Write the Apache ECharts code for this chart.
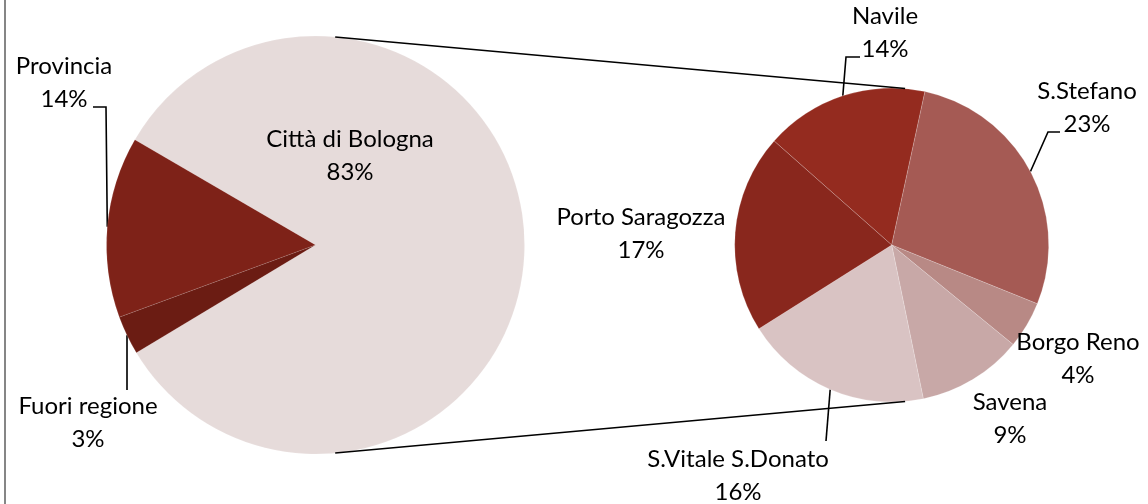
<!DOCTYPE html>
<html>
<head>
<meta charset="utf-8">
<script src="https://cdn.jsdelivr.net/npm/echarts@6/dist/echarts.min.js"></script>
<style>
  html, body { margin: 0; padding: 0; background: #fff; }
  #pieOfPie { width: 1148px; height: 504px; }
</style>
</head>
<body>
<div id="pieOfPie"></div>
<script>
// dati: torta principale (provenienza) e torta secondaria (quartieri di Bologna)
var mainNames = ['Città di Bologna', 'Provincia', 'Fuori regione'];
var mainValues = [83, 14, 3];
var zoneNames = ['Navile', 'S.Stefano', 'Borgo Reno', 'Savena', 'S.Vitale S.Donato', 'Porto Saragozza'];
var zoneValues = [14, 23, 4, 9, 16, 17];

var mainColors = ['#e6dbda', '#7e2218', '#6b1c13'];
var zoneColors = ['#942b1f', '#a55a54', '#b88985', '#c8a8a7', '#d9c3c3', '#89271d'];

// geometria delle due torte (px)
var leftC = [315.5, 245], leftR = 209;
var rightC = [891.7, 245], rightR = 157;

// posizione delle etichette (centro del blocco) e punti della linea guida
var mainLabels = {
    'Città di Bologna': {x: 350, y: 156},
    'Provincia': {x: 64, y: 83, line: [[106, 107], [93, 107]]},
    'Fuori regione': {x: 88, y: 423, line: [[127, 390], [127, 390]]}
};
var zoneLabels = {
    'Navile': {x: 885, y: 33, line: [[846, 57], [860, 57]]},
    'S.Stefano': {x: 1087, y: 108, line: [[1048, 132], [1060, 132]]},
    'Borgo Reno': {x: 1078, y: 359},
    'Savena': {x: 1010, y: 419},
    'S.Vitale S.Donato': {x: 738, y: 476, line: [[826, 441], [826, 441]]},
    'Porto Saragozza': {x: 641, y: 234}
};

function buildData(names, values, colors, labels) {
    var out = [];
    for (var i = 0; i < names.length; i++) {
        out.push({
            name: names[i],
            value: values[i],
            itemStyle: {color: colors[i]},
            labelLine: {show: !!labels[names[i]].line}
        });
    }
    return out;
}

function makeLayout(names, labels) {
    return function (p) {
        var pos = labels[names[p.dataIndex]];
        var res = {x: pos.x, y: pos.y, align: 'center', verticalAlign: 'middle'};
        if (pos.line && p.labelLinePoints) {
            res.labelLinePoints = [p.labelLinePoints[0]].concat(pos.line);
        }
        return res;
    };
}

// punto sul bordo di una torta, angolo in gradi dal nord in senso orario
function rim(c, r, deg) {
    var a = deg * Math.PI / 180;
    return [c[0] + r * Math.sin(a), c[1] - r * Math.cos(a)];
}

var labelStyle = {
    show: true,
    position: 'outside',
    formatter: '{b}\n{c}%',
    color: '#000',
    fontFamily: 'Lato',
    fontSize: 24,
    lineHeight: 33
};
var lineStyle = {show: true, length: 10, length2: 10, lineStyle: {color: '#000', width: 1.6}};

var topL = rim(leftC, leftR, 5.4), topR = rim(rightC, rightR, 4.9);
var botL = rim(leftC, leftR, 174.6), botR = rim(rightC, rightR, 175.1);

var option = {
    animation: false,
    backgroundColor: '#fff',
    graphic: [
        {type: 'line', shape: {x1: 5, y1: 0, x2: 5, y2: 504}, style: {stroke: '#868686', lineWidth: 2}},
        {type: 'line', z: 10, shape: {x1: topL[0], y1: topL[1], x2: topR[0], y2: topR[1]}, style: {stroke: '#000', lineWidth: 1.6}},
        {type: 'line', z: 10, shape: {x1: botL[0], y1: botL[1], x2: botR[0], y2: botR[1]}, style: {stroke: '#000', lineWidth: 1.6}}
    ],
    series: [
        {
            name: 'Provenienza',
            type: 'pie',
            center: leftC,
            radius: leftR,
            startAngle: 211,
            clockwise: false,
            avoidLabelOverlap: false,
            itemStyle: {borderColor: 'rgba(255,255,255,0.2)', borderWidth: 0.5},
            label: labelStyle,
            labelLine: lineStyle,
            labelLayout: makeLayout(mainNames, mainLabels),
            emphasis: {disabled: true},
            data: buildData(mainNames, mainValues, mainColors, mainLabels)
        },
        {
            name: 'Quartieri',
            type: 'pie',
            center: rightC,
            radius: rightR,
            startAngle: 138.5,
            clockwise: true,
            avoidLabelOverlap: false,
            itemStyle: {borderColor: 'rgba(255,255,255,0.3)', borderWidth: 0.6},
            label: labelStyle,
            labelLine: lineStyle,
            labelLayout: makeLayout(zoneNames, zoneLabels),
            emphasis: {disabled: true},
            data: buildData(zoneNames, zoneValues, zoneColors, zoneLabels)
        }
    ]
};

var chart = echarts.init(document.getElementById('pieOfPie'));
chart.setOption(option);
</script>
</body>
</html>
